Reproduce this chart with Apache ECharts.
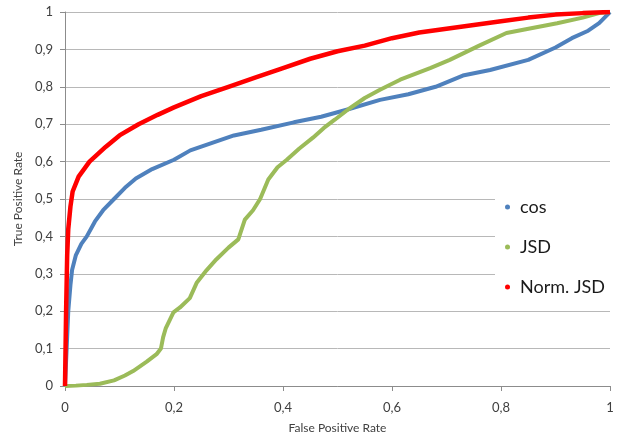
<!DOCTYPE html>
<html>
<head>
<meta charset="utf-8">
<script src="https://cdn.jsdelivr.net/npm/echarts@6/dist/echarts.min.js"></script>
<style>
  html, body { margin: 0; padding: 0; background: #fff; }
  #chart { width: 628px; height: 439px; }
</style>
</head>
<body>
<div id="chart"></div>
<script>
// ROC curves, values
const seriesNames = ["cos", "JSD", "Norm. JSD"];
const xTicks = [0, 0.2, 0.4, 0.6, 0.8, 1];
const yTicks = [0, 0.1, 0.2, 0.3, 0.4, 0.5, 0.6, 0.7, 0.8, 0.9, 1];

const cosFpr = [0, 0.003, 0.006, 0.01, 0.013, 0.02, 0.03, 0.04, 0.055, 0.07, 0.09, 0.11, 0.13, 0.16, 0.2, 0.23, 0.27, 0.31, 0.36, 0.42, 0.47, 0.52, 0.578, 0.63, 0.68, 0.73, 0.78, 0.85, 0.9, 0.93, 0.96, 0.98, 0.99, 1];
const cosTpr = [0, 0.1, 0.2, 0.27, 0.31, 0.35, 0.38, 0.4, 0.44, 0.47, 0.5, 0.53, 0.555, 0.58, 0.605, 0.63, 0.65, 0.67, 0.685, 0.705, 0.72, 0.74, 0.765, 0.78, 0.8, 0.83, 0.845, 0.872, 0.905, 0.93, 0.95, 0.97, 0.985, 1];

const jsdFpr = [0, 0.02, 0.04, 0.064, 0.09, 0.11, 0.125, 0.15, 0.168, 0.176, 0.18, 0.185, 0.199, 0.211, 0.229, 0.242, 0.26, 0.278, 0.3, 0.318, 0.33, 0.345, 0.358, 0.373, 0.39, 0.407, 0.43, 0.455, 0.475, 0.495, 0.52, 0.55, 0.578, 0.615, 0.67, 0.706, 0.76, 0.81, 0.86, 0.903, 0.95, 0.98, 1];
const jsdTpr = [0, 0.001, 0.003, 0.006, 0.015, 0.028, 0.04, 0.065, 0.085, 0.1, 0.13, 0.155, 0.197, 0.21, 0.235, 0.277, 0.31, 0.339, 0.37, 0.392, 0.445, 0.47, 0.5, 0.552, 0.585, 0.605, 0.635, 0.664, 0.69, 0.712, 0.74, 0.77, 0.792, 0.819, 0.85, 0.872, 0.91, 0.944, 0.958, 0.97, 0.985, 0.997, 1];

const normFpr = [0, 0.002, 0.004, 0.006, 0.01, 0.014, 0.025, 0.045, 0.075, 0.1, 0.135, 0.17, 0.2, 0.25, 0.3, 0.35, 0.4, 0.45, 0.5, 0.55, 0.6, 0.65, 0.7, 0.75, 0.8, 0.85, 0.9, 0.95, 1];
const normTpr = [0, 0.2, 0.35, 0.42, 0.48, 0.52, 0.56, 0.6, 0.64, 0.67, 0.7, 0.725, 0.745, 0.775, 0.8, 0.825, 0.85, 0.875, 0.895, 0.91, 0.93, 0.945, 0.955, 0.965, 0.975, 0.985, 0.993, 0.997, 1];

const colors = ["#4f81bd", "#9bbb59", "#ff0000"];

function pairs(xs, ys) {
  return xs.map((x, i) => [x, ys[i]]);
}

const font = "Lato, 'Open Sans', sans-serif";
const comma = (v) => String(v).replace(".", ",");

let chart = echarts.init(document.getElementById("chart"), null, { renderer: "canvas" });
let options = {
  animation: false,
  color: colors,
  grid: { left: 65, right: 18, top: 12, bottom: 52 },
  xAxis: {
    type: "value",
    min: 0,
    max: 1,
    interval: 0.2,
    name: "False Positive Rate",
    nameLocation: "middle",
    nameGap: 36,
    nameTextStyle: { fontFamily: font, fontSize: 12, color: "#404040" },
    axisLine: { show: true, lineStyle: { color: "#8c8c8c", width: 1 } },
    axisTick: { show: true, length: 5, lineStyle: { color: "#8c8c8c" } },
    axisLabel: {
      margin: 15,
      fontFamily: font,
      fontSize: 13,
      color: "#404040",
      formatter: comma,
    },
    splitLine: { show: false },
  },
  yAxis: {
    type: "value",
    min: 0,
    max: 1,
    interval: 0.1,
    name: "True Positive Rate",
    nameLocation: "middle",
    nameGap: 41,
    nameTextStyle: { fontFamily: font, fontSize: 12, color: "#404040" },
    axisLine: { show: true, lineStyle: { color: "#8c8c8c", width: 1 } },
    axisTick: { show: true, inside: false, length: 5, lineStyle: { color: "#8c8c8c" } },
    axisLabel: {
      margin: 12,
      fontFamily: font,
      fontSize: 13,
      color: "#404040",
      formatter: comma,
    },
    splitLine: { show: true, lineStyle: { color: "#b8b8b8", width: 1 } },
  },
  legend: {
    orient: "vertical",
    left: 495,
    top: 176,
    padding: [22, 8, 10, 10],
    backgroundColor: "#fff",
    itemGap: 22,
    icon: "circle",
    itemWidth: 5,
    itemHeight: 5,
    textStyle: {
      fontFamily: font,
      fontSize: 18,
      color: "#1a1a1a",
      padding: [0, 0, 0, 5],
    },
    data: seriesNames,
    z: 10,
  },
  series: [
    { name: seriesNames[0], data: pairs(cosFpr, cosTpr) },
    { name: seriesNames[1], data: pairs(jsdFpr, jsdTpr) },
    { name: seriesNames[2], data: pairs(normFpr, normTpr) },
  ].map((s, i) => ({
    name: s.name,
    type: "line",
    data: s.data,
    showSymbol: false,
    smooth: false,
    lineStyle: { width: i === 2 ? 4.5 : 4, color: colors[i] },
    itemStyle: { color: colors[i] },
    z: 2 + i,
  })),
};
chart.setOption(options);
</script>
</body>
</html>
